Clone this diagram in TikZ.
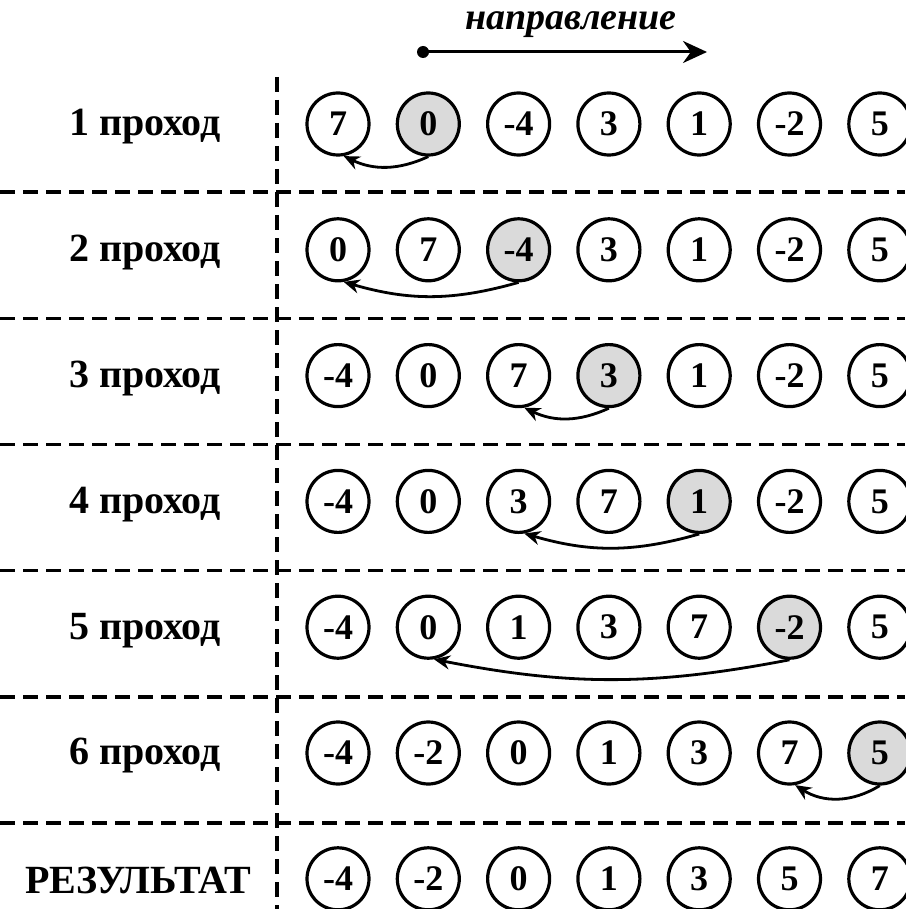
\documentclass[tikz,border=0pt]{standalone}
\usepackage{fontspec}
\setmainfont{Liberation Serif}
\usetikzlibrary{arrows.meta}
\definecolor{cellgray}{RGB}{218,218,218}
\begin{document}
\begin{tikzpicture}[x=0.5pt,y=-0.5pt,
  cell/.style={circle,draw,line width=1.6pt,minimum size=31pt,inner sep=0pt,
    font=\fontsize{18}{18}\selectfont\bfseries},
  lbl/.style={font=\fontsize{20}{20}\selectfont\bfseries},
  sep/.style={dash pattern=on 7.5pt off 4pt,line width=1.7pt},
  move/.style={-{Stealth[length=8pt,width=7pt]},line width=1.4pt}]
\useasboundingbox (0,0) rectangle (905,909);
% separators
\foreach \j in {0,...,5}
  \draw[sep] (0,{192+126.2*\j}) -- (905,{192+126.2*\j});
\draw[sep] (277,77) -- (277,909);
% rows of cells
\foreach \vals [count=\r] in {{7,0,-4,3,1,-2,5},{0,7,-4,3,1,-2,5},{-4,0,7,3,1,-2,5},
  {-4,0,3,7,1,-2,5},{-4,0,1,3,7,-2,5},{-4,-2,0,1,3,7,5},{-4,-2,0,1,3,5,7}} {
  \foreach \v [count=\i from 0] in \vals {
    \ifnum\i=\r\def\fillc{cellgray}\else\def\fillc{white}\fi
    \node[cell,fill=\fillc] (c\r-\i) at ({338+90.3*\i},{124+125.8*(\r-1)}) {\v};
  }
}
% row labels
\foreach \r in {1,...,6}
  \node[lbl] (l\r) at (145,{127+125.8*(\r-1)}) {\r\ проход};
\node[lbl] (l7) at (138,880) {РЕЗУЛЬТАТ};
% moves
\draw[move] (c1-1.south) to[bend left=25] (c1-0.-80);
\draw[move] (c2-2.south) to[bend left=16] (c2-0.-80);
\draw[move] (c3-3.south) to[bend left=25] (c3-2.-80);
\draw[move] (c4-4.south) to[bend left=16] (c4-2.-80);
\draw[move] (c5-5.south) to[bend left=11] (c5-1.-80);
\draw[move] (c6-6.south) to[bend left=32] (c6-5.-80);
% direction
\coordinate (ds) at (423,52);
\coordinate (de) at (707,52);
\fill (ds) circle (3pt);
\draw[line width=1.5pt,-{Stealth[length=12pt,width=11pt]}] (ds) -- (de);
\node[font=\fontsize{19}{19}\selectfont\bfseries\itshape] (dir) at (571,25) {направление};
\end{tikzpicture}
\end{document}
